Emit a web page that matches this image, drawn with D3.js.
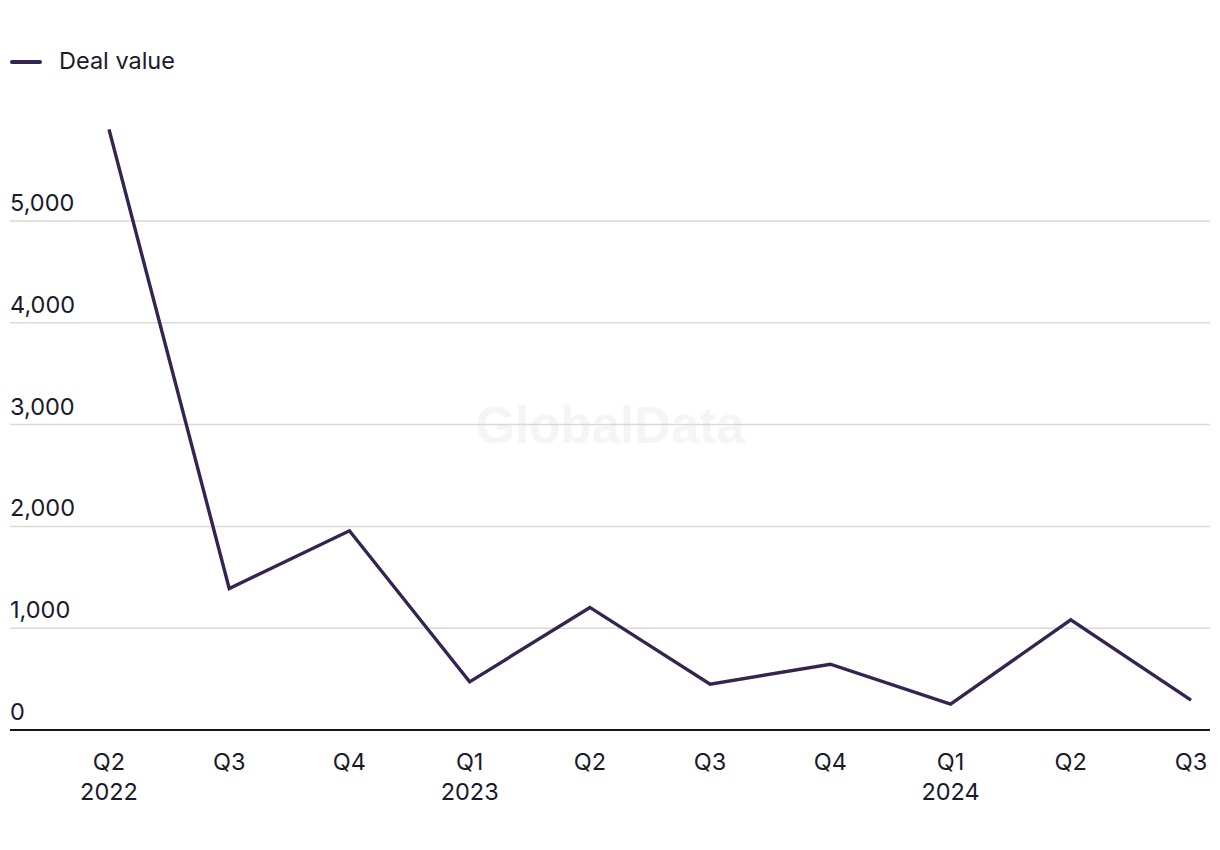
<!DOCTYPE html>
<html>
<head>
<meta charset="utf-8">
<script src="https://cdn.jsdelivr.net/npm/d3@7"></script>
<style>
  html, body { margin: 0; padding: 0; background: #ffffff; }
  svg { display: block; font-family: Inter, "Noto Sans", sans-serif; }
</style>
</head>
<body>
<svg id="chart" width="1220" height="850"></svg>
<script>
const quarters = ["Q2", "Q3", "Q4", "Q1", "Q2", "Q3", "Q4", "Q1", "Q2", "Q3"];
const years    = ["2022", "", "", "2023", "", "", "", "2024", "", ""];
const dealValue = [5900, 1390, 1957, 473, 1204, 450, 646, 254, 1083, 294];
const yTicks = [0, 1000, 2000, 3000, 4000, 5000];
const seriesName = "Deal value";

const svg = d3.select("#chart");
const lineColor = "#35244f";
const textColor = "#1b1a2b";
const fs = 23.5;

const x = d3.scaleLinear().domain([0, quarters.length - 1]).range([109, 1191]);
const y = d3.scaleLinear().domain([0, 5000]).range([730, 221]);

// watermark
svg.append("text")
  .attr("x", 610).attr("y", 443)
  .attr("text-anchor", "middle")
  .attr("font-size", 51).attr("font-weight", 700)
  .attr("font-family", "Arial, 'Liberation Sans', sans-serif")
  .attr("fill", "#f5f5f5")
  .text("GlobalData");

// gridlines
const grid = svg.append("g");
grid.selectAll("line").data(yTicks.filter(d => d > 0)).join("line")
  .attr("x1", 10).attr("x2", 1210)
  .attr("y1", d => y(d)).attr("y2", d => y(d))
  .attr("stroke", "#d9d9d9").attr("stroke-width", 1.5);

// y labels
svg.append("g").selectAll("text").data(yTicks).join("text")
  .attr("x", 10).attr("y", d => y(d) - 10)
  .attr("font-size", fs).attr("fill", textColor)
  .text(d => d3.format(",")(d));

// baseline
svg.append("line")
  .attr("x1", 10).attr("x2", 1210)
  .attr("y1", y(0)).attr("y2", y(0))
  .attr("stroke", "#15152a").attr("stroke-width", 2);

// x labels
const xl = svg.append("g");
xl.selectAll("text.q").data(quarters).join("text")
  .attr("class", "q")
  .attr("x", (d, i) => x(i)).attr("y", 770)
  .attr("text-anchor", "middle")
  .attr("font-size", fs).attr("fill", textColor)
  .text(d => d);
xl.selectAll("text.yr").data(years).join("text")
  .attr("class", "yr")
  .attr("x", (d, i) => x(i)).attr("y", 800)
  .attr("text-anchor", "middle")
  .attr("font-size", fs).attr("fill", textColor)
  .text(d => d);

// line
const line = d3.line().x((d, i) => x(i)).y(d => y(d));
svg.append("path")
  .datum(dealValue)
  .attr("d", line)
  .attr("fill", "none")
  .attr("stroke", lineColor)
  .attr("stroke-width", 3.4)
  .attr("stroke-linejoin", "miter");

// legend
svg.append("line")
  .attr("x1", 12).attr("x2", 40).attr("y1", 62).attr("y2", 62)
  .attr("stroke", lineColor).attr("stroke-width", 4)
  .attr("stroke-linecap", "round");
svg.append("text")
  .attr("x", 59).attr("y", 69)
  .attr("font-size", fs).attr("fill", textColor)
  .text(seriesName);
</script>
</body>
</html>
